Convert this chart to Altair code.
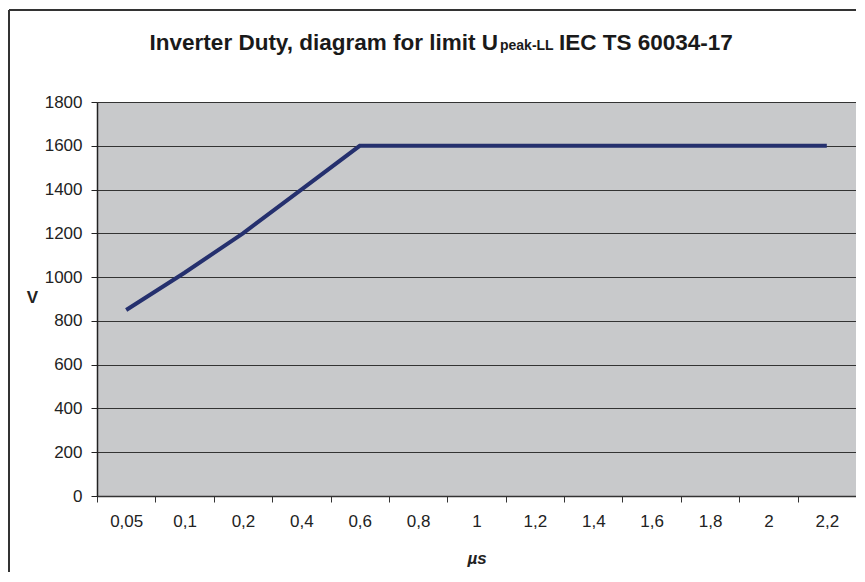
import altair as alt
import pandas as pd

# Data
x_labels = ["0,05", "0,1", "0,2", "0,4", "0,6", "0,8", "1", "1,2", "1,4", "1,6", "1,8", "2", "2,2"]
voltage = [850, 1020, 1200, 1400, 1600, 1600, 1600, 1600, 1600, 1600, 1600, 1600, 1600]
y_ticks = [0, 200, 400, 600, 800, 1000, 1200, 1400, 1600, 1800]

title_main = "Inverter Duty, diagram for limit U"
title_sub = "peak-LL"
title_tail = "IEC TS 60034-17"

df = pd.DataFrame({"t": x_labels, "v": voltage})
one = pd.DataFrame({"a": [0]})

FONT = "Liberation Sans"

line = alt.Chart(df).mark_line(color="#25306e", strokeWidth=4).encode(
    x=alt.X(
        "t:N",
        sort=x_labels,
        scale=alt.Scale(type="band", paddingInner=0, paddingOuter=0),
        axis=alt.Axis(
            title="µs",
            titleFont=FONT,
            titleFontSize=17,
            titleFontWeight="bold",
            titleFontStyle="italic",
            titleColor="#222222",
            titleY=62,
            titleBaseline="middle",
            labelAngle=0,
            labelFont=FONT,
            labelFontSize=17,
            labelColor="#222222",
            labelPadding=11,
            tickBand="extent",
            tickSize=6,
            tickColor="#333333",
            domainColor="#333333",
            domainWidth=1.5,
            grid=False,
        ),
    ),
    y=alt.Y(
        "v:Q",
        scale=alt.Scale(domain=[0, 1800], nice=False),
        axis=alt.Axis(
            values=y_ticks,
            format="d",
            title="V",
            titleAngle=0,
            titleFont=FONT,
            titleFontSize=17,
            titleFontWeight="bold",
            titleColor="#222222",
            titleX=-65,
            titleY=195,
            titleAlign="center",
            titleBaseline="middle",
            labelFont=FONT,
            labelFontSize=17,
            labelColor="#222222",
            labelPadding=9,
            tickSize=6,
            tickColor="#222222",
            domainColor="#222222",
            domainWidth=1.5,
            grid=True,
            gridColor="#333333",
            gridWidth=1,
        ),
    ),
)

frame_top = alt.Chart(one).mark_rule(color="#333333", strokeWidth=2).encode(
    x=alt.value(-88), x2=alt.value(900), y=alt.value(-92)
)
frame_left = alt.Chart(one).mark_rule(color="#333333", strokeWidth=2).encode(
    x=alt.value(-88), y=alt.value(-92), y2=alt.value(600)
)

t1 = alt.Chart(one).mark_text(
    text=title_main, font=FONT, fontSize=22.5, fontWeight="bold", align="right",
    baseline="alphabetic", color="#1a1a1a"
).encode(x=alt.value(401), y=alt.value(-52))
t2 = alt.Chart(one).mark_text(
    text=title_sub, font=FONT, fontSize=14, fontWeight="bold", align="left",
    baseline="alphabetic", color="#1a1a1a"
).encode(x=alt.value(403), y=alt.value(-52))
t3 = alt.Chart(one).mark_text(
    text=title_tail, font=FONT, fontSize=22.5, fontWeight="bold", align="left",
    baseline="alphabetic", color="#1a1a1a"
).encode(x=alt.value(462), y=alt.value(-52))

chart = (
    alt.layer(frame_top, frame_left, line, t1, t2, t3)
    .properties(
        width=759,
        height=394,
        autosize=alt.AutoSizeParams(type="none"),
        padding={"left": 89, "top": 94, "right": 0, "bottom": 76},
        background="white",
    )
    .configure_view(fill="#c8c9cb", stroke="#9a9a9a", strokeWidth=1)
)

chart.save("out.html", embed_options={"renderer": "svg", "actions": False})
